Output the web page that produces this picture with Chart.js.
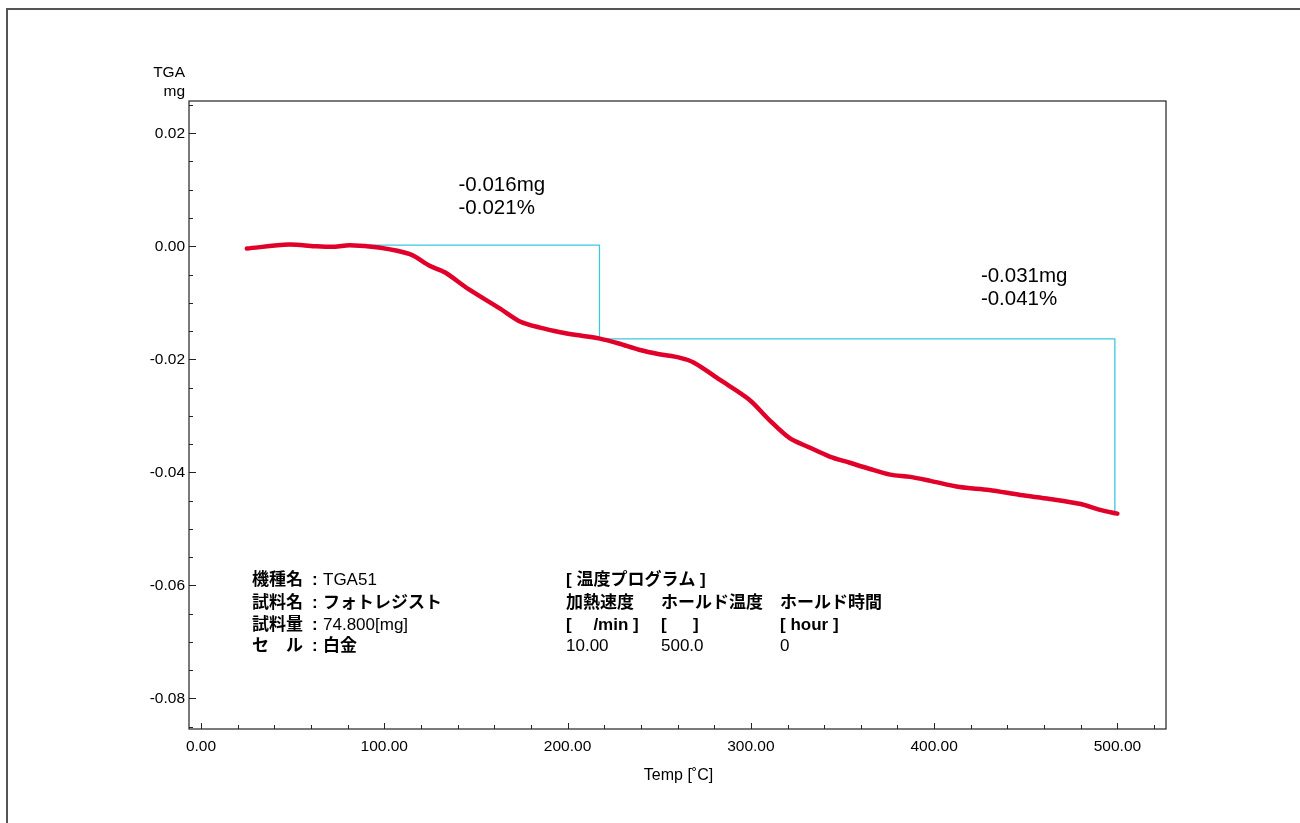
<!DOCTYPE html>
<html>
<head>
<meta charset="utf-8">
<script src="https://cdn.jsdelivr.net/npm/chart.js@4"></script>
<style>
  body { margin: 0; background: #fff; }
  #wrap { width: 1300px; height: 823px; position: relative; }
</style>
</head>
<body>
<div id="wrap"><canvas id="myChart"></canvas></div>
<script>
// TGA curve
const temps = [25, 48, 62, 73, 81, 97, 114, 125, 133, 146, 163, 174, 185, 196, 207, 217, 228, 239, 250, 261,
  269, 283, 299, 310, 321, 332, 343, 354, 365, 376, 387, 398, 414, 430, 447, 463, 480, 490, 500];
const massMg = [-0.0004, 0.0003, 0.0000, -0.0001, 0.0002, -0.0002, -0.0014, -0.0035, -0.0046, -0.0076,
  -0.0110, -0.0133, -0.0144, -0.0152, -0.0158, -0.0163, -0.0172, -0.0183, -0.0191, -0.0197,
  -0.0206, -0.0236, -0.0271, -0.0307, -0.0339, -0.0356, -0.0372, -0.0383, -0.0394, -0.0404,
  -0.0408, -0.0415, -0.0426, -0.0431, -0.0440, -0.0447, -0.0456, -0.0466, -0.0473];

// step analysis lines
const stepTemp = [81, 217.4, 217.4, 498.6, 498.6];
const stepMass = [0.0002, 0.0002, -0.0164, -0.0164, -0.0472];

const xTicks = [0, 100, 200, 300, 400, 500];
const yTicks = [-0.08, -0.06, -0.04, -0.02, 0.00, 0.02];

const stepLabels = [
  { t: 140.5, m: 0.0108, lines: ["-0.016mg", "-0.021%"] },
  { t: 425.5, m: -0.0053, lines: ["-0.031mg", "-0.041%"] }
];

const infoLeft = [["機種名", "TGA51"], ["試料名", "フォトレジスト"], ["試料量", "74.800[mg]"], ["セ　ル", "白金"]];
const progTitle = "[ 温度プログラム ]";
const progHead = ["加熱速度", "ホールド温度", "ホールド時間"];
const progUnit = ["[　 /min ]", "[ 　 ]", "[ hour ]"];
const progVal = ["10.00", "500.0", "0"];

const latin = '"Liberation Sans", Arial, "Noto Sans CJK JP", sans-serif';
const jp = '"Liberation Sans", "Noto Sans CJK JP", sans-serif';

const paper = {
  id: "paper",
  beforeDraw(chart) {
    const c = chart.ctx;
    c.save();
    c.fillStyle = "#fff";
    c.fillRect(0, 0, chart.width, chart.height);
    c.strokeStyle = "#555";
    c.lineWidth = 2;
    c.beginPath();
    c.moveTo(7, 823);
    c.lineTo(7, 9);
    c.lineTo(1300, 9);
    c.stroke();
    c.restore();
  },
  afterDraw(chart) {
    const c = chart.ctx;
    const a = chart.chartArea;
    const xs = chart.scales.x, ys = chart.scales.y;
    c.save();
    c.strokeStyle = "#222";
    c.lineWidth = 1.2;
    c.strokeRect(a.left, a.top, a.right - a.left, a.bottom - a.top);

    // tick marks inside the frame
    c.lineWidth = 1;
    c.beginPath();
    for (let v = -0.085; v <= 0.0255; v += 0.005) {
      const y = Math.round(ys.getPixelForValue(v)) + 0.5;
      const major = Math.abs(v / 0.02 - Math.round(v / 0.02)) < 0.01;
      c.moveTo(a.left, y);
      c.lineTo(a.left + (major ? 7 : 4), y);
    }
    for (let t = 0; t <= 520; t += 20) {
      const x = Math.round(xs.getPixelForValue(t)) + 0.5;
      const major = t % 100 === 0;
      c.moveTo(x, a.bottom);
      c.lineTo(x, a.bottom - (major ? 6 : 4));
    }
    c.stroke();

    c.fillStyle = "#000";
    c.font = "15.5px " + latin;
    c.textAlign = "right";
    c.textBaseline = "middle";
    c.fillText("TGA", 185, 73);
    c.fillText("mg", 185, 92);
    c.font = "16px " + latin;
    c.textAlign = "center";
    c.fillText("Temp [˚C]", (a.left + a.right) / 2 + 1, 776);

    c.textAlign = "left";
    c.font = "20.5px " + latin;
    stepLabels.forEach(s => {
      const x = xs.getPixelForValue(s.t);
      const y = ys.getPixelForValue(s.m);
      s.lines.forEach((l, i) => c.fillText(l, x, y + i * 23));
    });

    // instrument info
    const rows = [580, 603, 625, 646];
    infoLeft.forEach((r, i) => {
      c.font = "bold 17px " + jp;
      c.fillText(r[0], 252, rows[i]);
      c.fillText(":", 312, rows[i]);
      c.font = (i === 0 || i === 2 ? "" : "bold ") + "17px " + jp;
      c.fillText(r[1], 323, rows[i]);
    });
    const cols = [566, 661, 780];
    c.font = "bold 17px " + jp;
    c.fillText(progTitle, cols[0], rows[0]);
    progHead.forEach((h, i) => c.fillText(h, cols[i], rows[1]));
    progUnit.forEach((u, i) => c.fillText(u, cols[i], rows[2]));
    c.font = "17px " + latin;
    progVal.forEach((v, i) => c.fillText(v, cols[i], rows[3]));
    c.restore();
  }
};

const ctx = document.getElementById("myChart").getContext("2d");
const myChart = new Chart(ctx, {
  type: "line",
  data: {
    datasets: [{
      label: "TGA",
      data: temps.map((t, i) => ({ x: t, y: massMg[i] })),
      borderColor: "#e0002a",
      borderWidth: 4.5,
      pointRadius: 0,
      tension: 0.3,
      borderCapStyle: "round"
    }, {
      label: "step",
      data: stepTemp.map((t, i) => ({ x: t, y: stepMass[i] })),
      borderColor: "#3ec6de",
      borderWidth: 1.3,
      pointRadius: 0,
      tension: 0
    }]
  },
  options: {
    responsive: true,
    maintainAspectRatio: false,
    animation: false,
    layout: { padding: { top: 101, right: 134, left: 0, bottom: 0 } },
    plugins: { legend: { display: false }, tooltip: { enabled: false } },
    scales: {
      x: {
        type: "linear",
        min: -6.55,
        max: 526.5,
        grid: { display: false, drawTicks: false },
        border: { display: false },
        afterBuildTicks: s => { s.ticks = xTicks.map(v => ({ value: v })); },
        afterFit: s => { s.height = 94; },
        ticks: {
          padding: 8,
          color: "#000",
          font: { family: latin, size: 15.5 },
          maxRotation: 0,
          callback: v => Number(v).toFixed(2)
        }
      },
      y: {
        type: "linear",
        min: -0.0854,
        max: 0.0257,
        grid: { display: false, drawTicks: false },
        border: { display: false },
        afterBuildTicks: s => { s.ticks = yTicks.map(v => ({ value: v })); },
        afterFit: s => { s.width = 189; },
        ticks: {
          padding: 4,
          color: "#000",
          font: { family: latin, size: 15.5 },
          callback: v => Number(v).toFixed(2)
        }
      }
    }
  },
  plugins: [paper]
});
</script>
</body>
</html>
